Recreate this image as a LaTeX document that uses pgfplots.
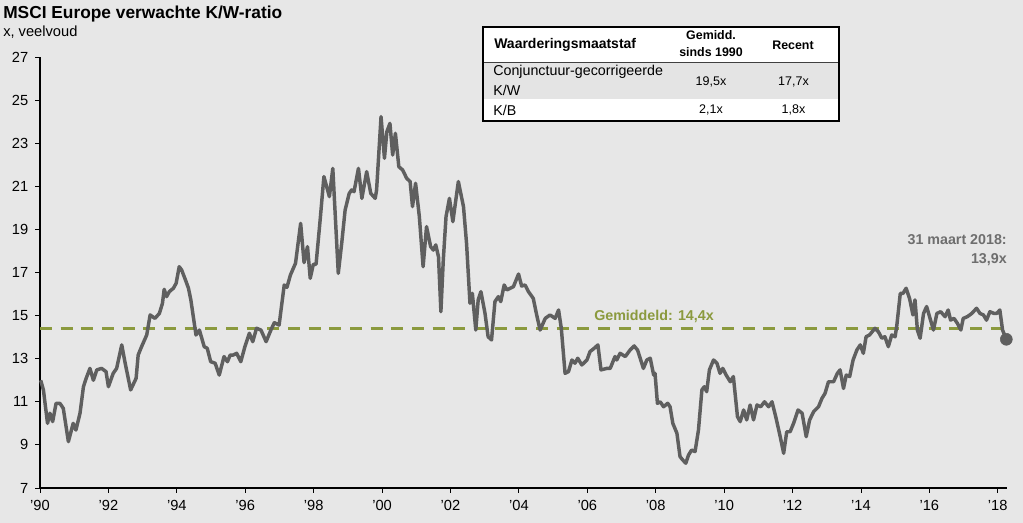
\documentclass[border=0pt]{standalone}
\usepackage{fontspec}
\setmainfont{Liberation Sans}
\usepackage{pgfplots}
\pgfplotsset{compat=1.18}
\definecolor{bgc}{HTML}{E7E7E7}
\definecolor{linec}{HTML}{5F5F5F}
\definecolor{olive}{HTML}{8B9A3E}
\definecolor{annc}{HTML}{6E6E6E}
\definecolor{rowc}{HTML}{E4E4E4}
\pgfplotstableread{
year val
1990.02 12.0
1990.1 11.55
1990.22 10.0
1990.29 10.47
1990.37 10.08
1990.47 10.93
1990.58 10.93
1990.68 10.7
1990.83 9.15
1990.97 10.0
1991.05 9.69
1991.17 10.47
1991.27 11.7
1991.35 12.09
1991.46 12.55
1991.56 12.0
1991.66 12.48
1991.8 12.55
1991.93 12.4
1992.0 11.7
1992.14 12.32
1992.24 12.55
1992.39 13.64
1992.49 12.79
1992.65 11.55
1992.81 12.09
1992.87 13.17
1992.97 13.56
1993.12 14.1
1993.22 15.03
1993.36 14.87
1993.49 15.1
1993.58 15.57
1993.63 16.22
1993.7 15.88
1993.78 16.11
1993.9 16.27
1993.98 16.5
1994.07 17.27
1994.14 17.12
1994.27 16.58
1994.34 16.27
1994.41 15.73
1994.56 14.1
1994.66 14.33
1994.8 13.56
1994.89 13.48
1994.99 12.86
1995.12 12.79
1995.24 12.24
1995.38 13.1
1995.48 12.86
1995.56 13.17
1995.65 13.17
1995.75 13.25
1995.87 12.86
1995.99 13.56
1996.12 14.18
1996.22 13.79
1996.33 14.41
1996.46 14.33
1996.61 13.79
1996.75 14.33
1996.85 14.67
1996.99 14.56
1997.14 16.42
1997.22 16.31
1997.32 16.88
1997.47 17.43
1997.62 19.28
1997.72 17.46
1997.82 18.2
1997.9 16.73
1997.99 17.38
1998.07 17.38
1998.19 19.44
1998.3 21.45
1998.46 20.52
1998.56 21.83
1998.72 16.96
1998.82 18.35
1998.92 19.9
1999.04 20.67
1999.11 20.83
1999.18 20.75
1999.31 21.83
1999.41 20.44
1999.55 21.68
1999.67 20.67
1999.8 20.44
1999.84 20.83
1999.97 24.23
2000.07 22.3
2000.14 23.53
2000.23 23.92
2000.31 22.45
2000.39 23.46
2000.49 21.91
2000.6 21.76
2000.72 21.37
2000.82 21.22
2000.89 20.06
2000.98 21.14
2001.09 19.59
2001.2 17.27
2001.3 19.13
2001.42 18.2
2001.5 18.04
2001.57 18.28
2001.65 17.73
2001.72 15.18
2001.79 17.58
2001.87 19.59
2001.97 20.44
2002.07 19.36
2002.23 21.22
2002.38 20.06
2002.47 18.35
2002.57 15.57
2002.64 16.03
2002.74 14.33
2002.81 15.73
2002.89 16.11
2003.01 15.1
2003.1 14.02
2003.2 13.87
2003.3 15.65
2003.4 15.88
2003.47 15.65
2003.57 16.42
2003.65 16.19
2003.84 16.34
2003.99 16.93
2004.08 16.37
2004.18 16.42
2004.28 16.11
2004.42 15.8
2004.52 15.03
2004.62 14.33
2004.77 14.87
2004.91 15.03
2005.06 14.87
2005.16 15.26
2005.24 14.41
2005.35 12.32
2005.45 12.4
2005.55 12.94
2005.64 12.79
2005.72 13.02
2005.84 12.71
2005.99 12.94
2006.08 13.33
2006.2 13.48
2006.31 13.64
2006.4 12.48
2006.57 12.55
2006.67 12.55
2006.81 13.1
2006.86 12.94
2006.96 13.25
2007.11 13.1
2007.25 13.4
2007.37 13.59
2007.47 13.4
2007.64 12.55
2007.74 12.94
2007.84 13.02
2007.94 12.24
2007.98 12.32
2008.05 10.93
2008.13 11.0
2008.23 10.77
2008.35 10.93
2008.42 10.77
2008.5 10.0
2008.62 9.54
2008.71 8.46
2008.79 8.3
2008.88 8.15
2008.96 8.53
2009.05 8.76
2009.15 8.69
2009.25 9.69
2009.35 11.55
2009.42 11.7
2009.49 11.47
2009.57 12.48
2009.69 12.94
2009.79 12.79
2009.88 12.32
2009.96 12.55
2010.06 12.24
2010.18 11.93
2010.27 12.17
2010.39 10.31
2010.47 10.08
2010.57 10.62
2010.66 10.16
2010.76 10.85
2010.86 10.16
2010.96 10.85
2011.07 10.77
2011.18 11.0
2011.3 10.77
2011.4 11.0
2011.52 10.23
2011.64 9.38
2011.74 8.61
2011.83 9.61
2011.93 9.61
2012.03 10.0
2012.16 10.62
2012.28 10.47
2012.4 9.38
2012.5 10.16
2012.62 10.55
2012.76 10.77
2012.86 11.16
2012.95 11.39
2013.05 11.93
2013.2 11.93
2013.31 12.32
2013.39 12.48
2013.49 11.62
2013.57 12.24
2013.67 12.17
2013.77 12.94
2013.88 13.4
2013.98 13.64
2014.07 13.25
2014.15 14.02
2014.25 14.1
2014.41 14.41
2014.51 14.25
2014.61 13.95
2014.7 14.02
2014.8 13.56
2014.9 14.1
2015.0 14.02
2015.05 14.56
2015.15 16.03
2015.23 16.03
2015.32 16.27
2015.42 15.8
2015.52 15.03
2015.58 15.73
2015.65 14.33
2015.73 13.95
2015.83 15.1
2015.92 15.42
2016.02 14.87
2016.12 14.33
2016.22 15.1
2016.33 15.18
2016.46 14.95
2016.55 15.26
2016.62 14.79
2016.72 14.87
2016.82 14.64
2016.92 14.33
2016.99 14.87
2017.11 14.95
2017.24 15.1
2017.38 15.34
2017.48 15.1
2017.58 15.03
2017.67 14.79
2017.77 15.18
2017.89 15.1
2017.97 15.1
2018.06 15.26
2018.14 14.33
2018.25 13.9
}\pedata
\begin{document}
\begin{tikzpicture}
\fill[bgc] (0,0) rectangle (767.25pt,392.25pt);
\useasboundingbox (0,0) rectangle (767.25pt,392.25pt);
\begin{axis}[
  at={(30pt,26.25pt)}, anchor=south west,
  scale only axis, width=725.25pt, height=323.25pt,
  xmin=1990, xmax=2018.27, ymin=7, ymax=27,
  axis x line*=bottom, axis y line*=left,
  axis line style={-, black, line width=0.8pt},
  every outer x axis line/.append style={-},
  every outer y axis line/.append style={-},
  ytick={7,9,...,27},
  xtick={1990,1992,...,2018},
  xticklabels={{\char39 90},{\char39 92},{\char39 94},{\char39 96},{\char39 98},{\char39 00},{\char39 02},{\char39 04},{\char39 06},{\char39 08},{\char39 10},{\char39 12},{\char39 14},{\char39 16},{\char39 18}},
  tick align=outside, major tick length=3.75pt,
  tick style={black, line width=0.6pt},
  ticklabel style={font=\fontsize{11}{13}\selectfont},
  yticklabel style={xshift=-1.5pt},
  xticklabel style={yshift=-2pt},
  /pgf/number format/assume math mode=true,
  clip=false,
]
\addplot[olive, line width=2.4pt, dash pattern=on 9pt off 6.5pt] coordinates {(1990,14.4) (2018.2,14.4)};
\addplot[linec, line width=2.6pt, line join=round] table[x=year, y=val] {\pedata};
\addplot[only marks, mark=*, mark size=4.5pt, color=linec] coordinates {(2018.25,13.9)};
\end{axis}
\begin{scope}[shift={(0pt,392.25pt)}, x=0.75pt, y=-0.75pt]
  \node[anchor=base west, inner sep=0, font=\fontsize{13}{15}\selectfont\bfseries] at (3,19) {MSCI Europe verwachte K/W-ratio};
  \node[anchor=base west, inner sep=0, font=\fontsize{11}{13}\selectfont] at (3,36.5) {x, veelvoud};
  \node[anchor=base west, inner sep=0, text=olive, font=\fontsize{10.7}{13}\selectfont\bfseries] at (594,320.5) {Gemiddeld: 14,4x};
  \node[anchor=base east, inner sep=0, text=annc, font=\fontsize{10.7}{13}\selectfont\bfseries] at (1007,245) {31 maart 2018:};
  \node[anchor=base east, inner sep=0, text=annc, font=\fontsize{10.7}{13}\selectfont\bfseries] at (1007,264) {13,9x};
  % table
  \fill[white] (483,27) rectangle (839,121);
  \fill[rowc] (483,62.7) rectangle (839,99);
  \draw[black!75, line width=0.8pt] (483,62.7) -- (839,62.7);
  \draw[black, line width=1.3pt] (483,27) rectangle (839,121);
  \node[anchor=west, inner sep=0, font=\fontsize{10.5}{12}\selectfont\bfseries] at (494,45) {Waarderingsmaatstaf};
  \node[inner sep=0, font=\fontsize{9.3}{11}\selectfont\bfseries] at (711,35.5) {Gemidd.};
  \node[inner sep=0, font=\fontsize{9.3}{11}\selectfont\bfseries] at (711,52.5) {sinds 1990};
  \node[inner sep=0, font=\fontsize{9.3}{11}\selectfont\bfseries] at (793,45) {Recent};
  \node[anchor=west, inner sep=0, font=\fontsize{10.7}{12}\selectfont] at (493,72) {Conjunctuur-gecorrigeerde};
  \node[anchor=west, inner sep=0, font=\fontsize{10.7}{12}\selectfont] at (493,90) {K/W};
  \node[inner sep=0, font=\fontsize{9.4}{11}\selectfont] at (711,82) {19,5x};
  \node[inner sep=0, font=\fontsize{9.4}{11}\selectfont] at (793.5,82) {17,7x};
  \node[anchor=west, inner sep=0, font=\fontsize{10.7}{12}\selectfont] at (493,110) {K/B};
  \node[inner sep=0, font=\fontsize{9.4}{11}\selectfont] at (711,110) {2,1x};
  \node[inner sep=0, font=\fontsize{9.4}{11}\selectfont] at (793.5,110) {1,8x};
\end{scope}
\end{tikzpicture}
\end{document}
